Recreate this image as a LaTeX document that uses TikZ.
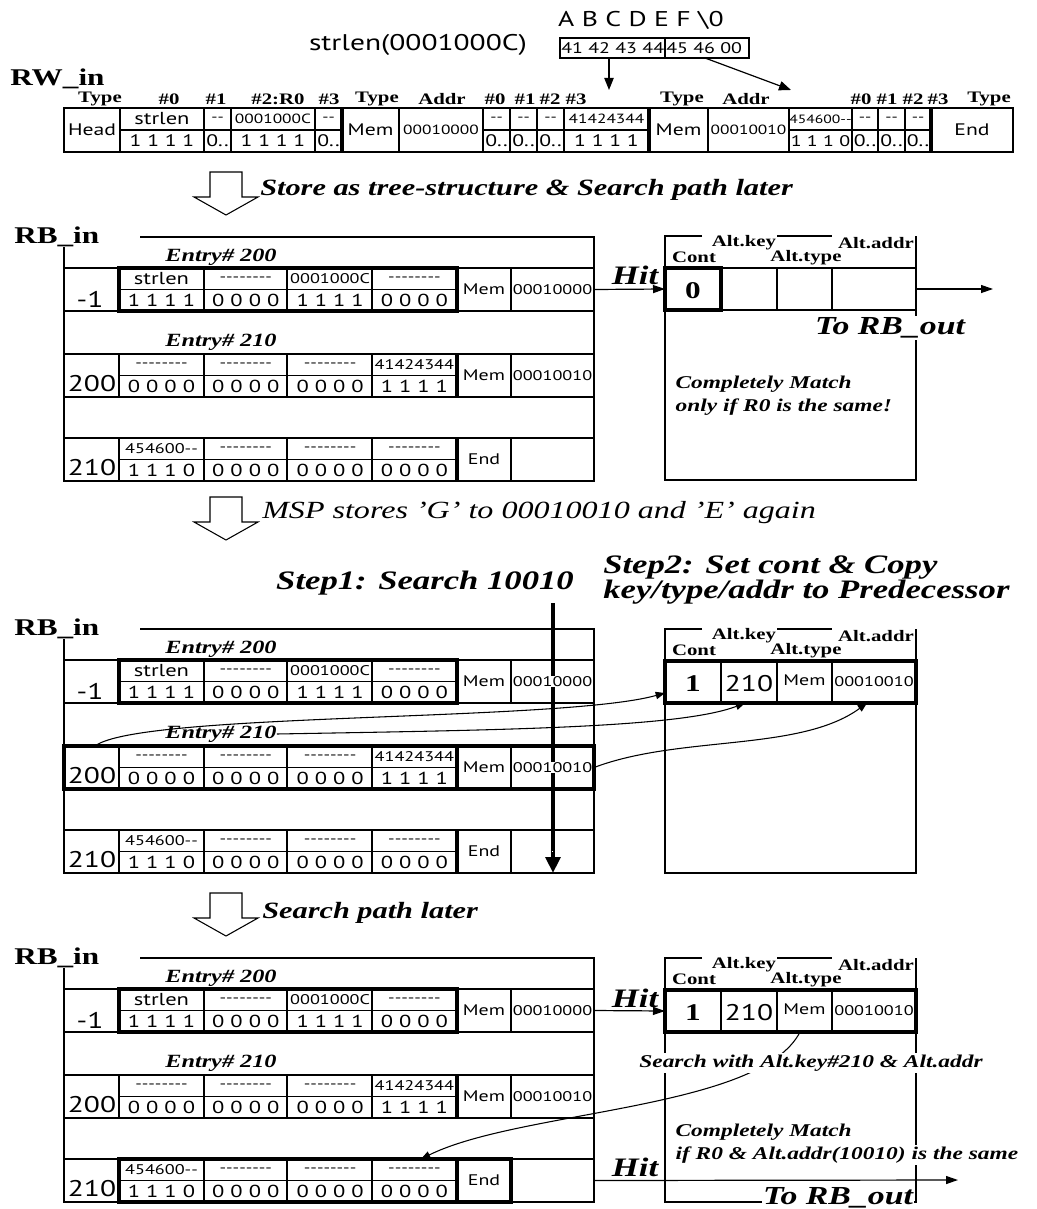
\documentclass[tikz,border=0pt]{standalone}
\usepackage{fontspec}
\setmainfont{Liberation Serif}[FakeStretch=1.3]
\newfontfamily\cellsf{PT Sans}[FakeStretch=1.3]
\usetikzlibrary{arrows.meta}

\newcommand{\dashes}{-\kern0pt-\kern0pt-\kern0pt-\kern0pt-\kern0pt-\kern0pt-\kern0pt-}
\newcommand{\dd}{-\kern0pt-}

\newcommand{\hollowdown}[3]{%
  % #1=x centre, #2=top y, #3=name
  \draw[line width=0.8pt] (#1-16,#2) coordinate (#3) -- ++(32,0) -- ++(0,25) -- ++(16,0)
    -- (#1,#2+43) -- (#1-32,#2+25) -- ++(16,0) -- cycle;
}

\newcommand{\rbrow}[6]{%
  % #1=name prefix, #2=row top, #3=upper texts, #4=bit texts, #5=type, #6=addr
  \foreach \tx [count=\i] in {#3}
    \node[hexsf] (#1u\i) at ({77.2+84.3*\i},#2+11) {\tx};
  \foreach \tx [count=\i] in {#4}
    \node[bitsf] (#1b\i) at ({77.2+84.3*\i},#2+32) {\tx};
  \node[typesf] (#1ty) at (484,#2+21.5) {#5};
  \node[addrsf] (#1ad) at (552.5,#2+21.5) {#6};
}

\newcommand{\rbtable}[2]{%
  % #1=top y, #2=name prefix
  \begin{scope}[shift={(0,#1)}]
    \node[lbl, anchor=west] (#2lbl) at (14,0) {RB\_in};
    \draw[frame] (140,0) -| (594,244) -| (64,10);
    \node[entry] (#2eA) at (221,20) {Entry\# 200};
    \node[entry] (#2eB) at (221,105) {Entry\# 210};
    \foreach \ry in {31,117,201} {
      \draw[frame] (64,\ry) rectangle (594,\ry+43);
      \draw[frame] (119,\ry+21.5) -- (457,\ry+21.5);
      \foreach \cx in {119,204,287,372,511}
        \draw[frame] (\cx,\ry) -- (\cx,\ry+43);
      \draw[heavy] (457,\ry) -- (457,\ry+43);
    }
    \node[keysf] (#2k1) at (90,62) {-1};
    \node[keysf] (#2k2) at (92,147) {200};
    \node[keysf] (#2k3) at (92,231) {210};
    \rbrow{#2r1}{31}{{\fontsize{13}{15}\selectfont strlen},\dashes,0001000C,\dashes}{1 1 1 1,0 0 0 0,1 1 1 1,0 0 0 0}{Mem}{00010000}
    \rbrow{#2r2}{117}{\dashes,\dashes,\dashes,41424344}{0 0 0 0,0 0 0 0,0 0 0 0,1 1 1 1}{Mem}{00010010}
    \rbrow{#2r3}{201}{454600\dd,\dashes,\dashes,\dashes}{1 1 1 0,0 0 0 0,0 0 0 0,0 0 0 0}{End}{}
    \coordinate (#2hitA) at (594,52.5);
    \coordinate (#2hitB) at (594,138.5);
    \coordinate (#2hitC) at (594,222.5);
    \coordinate (#2keyB) at (95,117);
    \coordinate (#2grpC) at (421,201);
  \end{scope}
}

\newcommand{\altbox}[6]{%
  % #1=top y, #2=name prefix, #3=cont, #4=key, #5=type, #6=addr
  \begin{scope}[shift={(0,#1)}]
    \draw[frame] (702,0) -- (665,0) -- (665,244) -- (916,244) -- (916,0);
    \draw[frame] (777,0) -- (832,0);
    \node[alt] (#2lk) at (744,7) {Alt.key};
    \node[alt] (#2la) at (876,7) {Alt.addr};
    \node[alt] (#2lc) at (694,21) {Cont};
    \node[alt] (#2lt) at (806,22) {Alt.type};
    \draw[frame] (665,32) rectangle (916,74);
    \foreach \cx in {721,777,832} \draw[frame] (\cx,32) -- (\cx,74);
    \node[contv] (#2cv) at (693,55) {#3};
    \node[keysf] (#2kv) at (749,55) {#4};
    \node[typesf] (#2tv) at (804.5,51) {#5};
    \node[addrsf] (#2av) at (874,53) {#6};
    \coordinate (#2in) at (665,53);
    \coordinate (#2out) at (916,53);
    \coordinate (#2cont) at (665,64);
    \coordinate (#2keyS) at (745,74);
    \coordinate (#2typeS) at (800,74);
    \coordinate (#2addrS) at (867,74);
  \end{scope}
}

\begin{document}
\begin{tikzpicture}[
  x=0.75pt, y=-0.75pt,
  frame/.style={line width=0.9pt},
  heavy/.style={line width=2.6pt},
  lbl/.style={font=\fontsize{18}{20}\selectfont\bfseries, inner sep=0pt},
  hdr/.style={font=\fontsize{12}{14}\selectfont\bfseries, inner sep=0pt},
  entry/.style={font=\fontsize{14}{16}\selectfont\bfseries\itshape, inner sep=0pt},
  alt/.style={font=\fontsize{12}{14}\selectfont\bfseries, inner sep=0pt},
  hit/.style={font=\fontsize{20}{22}\selectfont\bfseries\itshape, inner sep=0pt},
  tonote/.style={font=\fontsize{19.5}{22}\selectfont\bfseries\itshape, fill=white, inner sep=1pt},
  note/.style={font=\fontsize{13.5}{15}\selectfont\bfseries\itshape, fill=white, inner sep=1pt},
  steplbl/.style={font=\fontsize{20}{22}\selectfont\bfseries\itshape, inner sep=0pt},
  desc/.style={font=\fontsize{17.5}{19}\selectfont\bfseries\itshape, anchor=west, inner sep=0pt},
  bigsf/.style={font=\cellsf\fontsize{16}{18}\selectfont, inner sep=0pt},
  keysf/.style={font=\cellsf\fontsize{17}{19}\selectfont, inner sep=0pt},
  bitsf/.style={font=\cellsf\fontsize{13}{15}\selectfont, inner sep=0pt},
  hexsf/.style={font=\cellsf\fontsize{10.5}{12}\selectfont, inner sep=0pt},
  typesf/.style={font=\cellsf\fontsize{11.5}{13}\selectfont, inner sep=0pt},
  addrsf/.style={font=\cellsf\fontsize{10.5}{12}\selectfont, inner sep=0.5pt, fill=white},
  contv/.style={font=\fontsize{18}{20}\selectfont\bfseries, inner sep=0pt},
  toparr/.style={-{Triangle[length=9pt,width=7pt]}, line width=0.9pt},
  hitarr/.style={-{Triangle[length=9pt,width=6pt]}, line width=0.9pt},
  copyarr/.style={-{Triangle[length=7pt,width=5.5pt]}, line width=0.8pt},
  bigarr/.style={-{Triangle[length=12pt,width=11pt]}, line width=3pt},
]
\useasboundingbox (0,0) rectangle (1036,1209);

% Call and string bytes
\node[bigsf, font=\cellsf\fontsize{17}{19}\selectfont] (call) at (418,45) {strlen(0001000C)};
\node[bigsf] (chars) at (641,20) {A B C D E F \textbackslash 0};
\draw[frame] (560,38) rectangle (665,58) (665,38) rectangle (749,58);
\node[hexsf, font=\cellsf\fontsize{11.5}{13}\selectfont, anchor=west] (hexA) at (561,48) {41 42 43 44};
\node[hexsf, font=\cellsf\fontsize{11.5}{13}\selectfont, anchor=west] (hexB) at (666,48) {45 46 00};
\coordinate (hexAs) at (609,58);
\coordinate (colA) at (609,90);
\coordinate (hexBs) at (705,58);
\coordinate (colB) at (791,90);
\draw[toparr] (hexAs) -- (colA);
\draw[toparr] (hexBs) -- (colB);

% RW_in record
\node[lbl, anchor=west] (rwlbl) at (10,79) {RW\_in};
\foreach \x/\tx [count=\i] in {100/Type,169/\#0,216/\#1,278/\#2:R0,329/\#3,377/Type,442/Addr,495/\#0,525/\#1,550/\#2,576/\#3,682/Type,746/Addr,861/\#0,887/\#1,913/\#2,938/\#3,989/Type}
  \node[hdr] (hd\i) at (\x,99) {\tx};
\draw[frame] (64,108) rectangle (1013,152);
\foreach \cx in {120,204,231,315,399,483,510,537,564,708,789,852,878,905}
  \draw[frame] (\cx,108) -- (\cx,152);
\foreach \cx in {342,649,931}
  \draw[heavy] (\cx,108) -- (\cx,152);
\draw[frame] (120,130) -- (342,130) (483,130) -- (649,130) (789,130) -- (931,130);
\foreach \x/\tx [count=\i] in {162/{\fontsize{13}{15}\selectfont strlen},217.5/\dd,273/0001000C,328.5/\dd,496.5/\dd,523.5/\dd,550.5/\dd,606.5/41424344,820.5/{\fontsize{9}{11}\selectfont 454600\dd},865/\dd,891.5/\dd,918/\dd}
  \node[hexsf, font=\cellsf\fontsize{10}{12}\selectfont] (rwu\i) at (\x,119) {\tx};
\foreach \x/\tx [count=\i] in {162/1 1 1 1,217.5/0..,273/1 1 1 1,328.5/0..,496.5/0..,523.5/0..,550.5/0..,606.5/1 1 1 1,820.5/{\fontsize{11.5}{13}\selectfont 1 1 1 0},865/0..,891.5/0..,918/0..}
  \node[bitsf, font=\cellsf\fontsize{12.5}{14}\selectfont] (rwb\i) at (\x,141) {\tx};
\node[bitsf, font=\cellsf\fontsize{12.5}{14}\selectfont] (rwhead) at (92,130) {Head};
\node[bitsf, font=\cellsf\fontsize{12.5}{14}\selectfont] (rwmemA) at (370.5,130) {Mem};
\node[hexsf, font=\cellsf\fontsize{10}{12}\selectfont] (rwaddrA) at (441,130) {00010000};
\node[bitsf, font=\cellsf\fontsize{12.5}{14}\selectfont] (rwmemB) at (678.5,130) {Mem};
\node[hexsf, font=\cellsf\fontsize{10}{12}\selectfont] (rwaddrB) at (748.5,130) {00010010};
\node[bitsf, font=\cellsf\fontsize{12.5}{14}\selectfont] (rwend) at (972,130) {End};

% Step: store
\hollowdown{226}{172}{dnA}
\node[desc] (descA) at (260,190) {Store as tree-structure \& Search path later};

% Section 1
\rbtable{237}{s1}
\draw[heavy] (119,268) rectangle (457,311);
\altbox{236}{r1}{0}{}{}{}
\draw[heavy] (665,268) rectangle (721,310);
\coordinate (out1) at (993,289);
\node[hit] (hit1) at (635,275) {Hit};
\draw[hitarr] (s1hitA) -- (r1in);
\draw[hitarr] (r1out) -- (out1);
\node[tonote] (to1) at (890,328) {To RB\_out};
\node[note, anchor=west] (cm1) at (674,384) {Completely Match};
\node[note, anchor=west] (cm1b) at (674,407) {only if R0 is the same!};

% Step: MSP stores
\hollowdown{226}{497}{dnB}
\node[desc, font=\fontsize{18.5}{20}\selectfont\itshape] (descB) at (262,513) {MSP stores ’G’ to 00010010 and ’E’ again};

% Section 2
\node[steplbl] (step1) at (425,583) {Step1: Search 10010};
\node[steplbl, anchor=west] (step2a) at (603,568) {Step2: Set cont \& Copy};
\node[steplbl, anchor=west] (step2b) at (603,592) {key/type/addr to Predecessor};
\coordinate (srchTop) at (553,603);
\coordinate (srchEnd) at (553,873);
\draw[bigarr] (srchTop) -- (srchEnd);
\rbtable{629}{s2}
\draw[heavy] (119,660) rectangle (457,703);
\draw[heavy] (64,746) rectangle (594,789);
\altbox{629}{r2}{1}{210}{Mem}{00010010}
\draw[heavy] (665,661) rectangle (916,703);
\draw[copyarr] (s2keyB) .. controls (140,712) and (560,722) .. (r2cont);
\draw[copyarr] (s2eB.east) .. controls (500,730) and (680,728) .. (r2keyS);
\draw[copyarr] (s2hitB) .. controls (680,735) and (800,752) .. (r2addrS);

% Step: search later
\hollowdown{226}{893}{dnC}
\node[desc] (descC) at (262,913) {Search path later};

% Section 3
\rbtable{958}{s3}
\draw[heavy] (119,989) rectangle (457,1032);
\draw[heavy] (119,1159) rectangle (511,1202);
\altbox{958}{r3}{1}{210}{Mem}{00010010}
\draw[heavy] (665,990) rectangle (916,1032);
\coordinate (out3) at (958,1180);
\node[hit] (hit3a) at (635,998) {Hit};
\draw[hitarr] (s3hitA) -- (r3in);
\draw[copyarr] (r3typeS) .. controls (760,1110) and (520,1110) .. (s3grpC);
\node[note] (srch3) at (811,1063) {Search with Alt.key\#210 \& Alt.addr};
\node[note, anchor=west] (cm3) at (674,1132) {Completely Match};
\node[note, anchor=west] (cm3b) at (674,1155) {if R0 \& Alt.addr(10010) is the same};
\node[hit] (hit3b) at (635,1167) {Hit};
\draw[hitarr] (s3hitC) -- (out3);
\node[tonote] (to3) at (838,1198) {To RB\_out};

\end{tikzpicture}
\end{document}
